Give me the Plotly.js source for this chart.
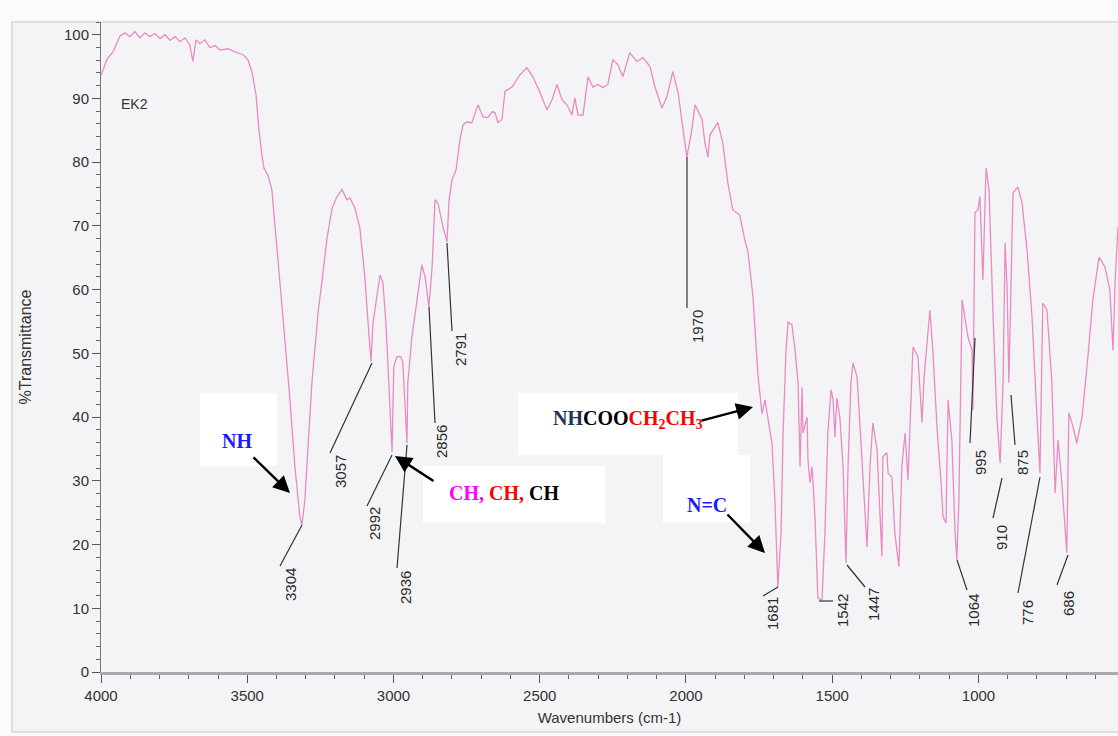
<!DOCTYPE html>
<html><head><meta charset="utf-8">
<script src="https://cdn.plot.ly/plotly-3.0.1.min.js"></script>
<style>html,body{margin:0;padding:0;background:#fbfbfb}#chart{width:1118px;height:736px}</style>
</head><body><div id="chart"></div>
<script>
// ---- data ----
const wavenumber = [
4000,3980,3959,3935,3918,3901,3884,3867,3850,3833,
3816,3798,3781,3764,3747,3730,3713,3696,3686,3675,
3662,3645,3628,3610,3593,3566,3542,3515,3498,3484,
3470,3460,3450,3443,3436,3429,3416,3399,3378,3354,
3337,3320,3313,3303,3293,3279,3265,3258,3245,3228,
3210,3193,3176,3159,3149,3132,3115,3098,3087,3077,
3070,3060,3046,3036,3026,3016,3005,2999,2988,2975,
2968,2954,2951,2937,2920,2903,2892,2879,2868,2858,
2848,2831,2817,2810,2800,2786,2773,2762,2749,2732,
2711,2694,2677,2663,2653,2643,2629,2619,2595,2568,
2544,2523,2499,2475,2458,2441,2424,2407,2390,2380,
2369,2352,2335,2318,2301,2284,2267,2250,2233,2216,
2192,2168,2147,2123,2106,2082,2065,2045,2027,2010,
1997,1980,1969,1945,1935,1925,1918,1891,1874,1857,
1840,1816,1799,1788,1771,1754,1740,1730,1720,1706,
1696,1689,1686,1675,1668,1658,1651,1638,1627,1617,
1610,1603,1600,1586,1583,1576,1569,1559,1549,1535,
1525,1515,1504,1497,1491,1484,1474,1463,1453,1446,
1436,1429,1415,1405,1391,1381,1371,1361,1347,1330,
1327,1313,1309,1296,1286,1272,1262,1251,1241,1224,
1207,1193,1186,1166,1156,1142,1128,1121,1111,1104,
1091,1080,1074,1067,1056,1046,1036,1022,1019,1012,
1002,995,985,974,964,950,937,926,916,909,
902,896,882,865,851,834,817,800,790,780,
766,749,738,728,715,698,691,677,664,646,
629,609,588,568,551,540,533,523
];
const transmittance = [
93.6,96.1,97.3,99.8,100.3,99.7,100.5,99.5,100.3,99.7,
100.2,99.4,100.0,99.1,99.7,98.9,99.5,98.4,95.8,99.2,
98.6,99.2,98.0,98.3,97.6,97.8,97.3,96.9,96.1,94.2,
90.6,85.1,81.2,79.1,78.5,77.9,75.7,66.2,55.7,42.7,
32.2,24.3,23.1,27.0,34.9,45.4,52.6,56.4,61.1,67.8,
72.8,74.6,75.7,74.1,74.4,72.8,69.7,62.0,54.8,48.7,
54.8,57.9,62.3,61.1,54.8,45.4,34.5,47.9,49.5,49.5,
48.5,35.9,45.4,52.6,58.4,63.9,62.0,57.3,63.6,74.1,
73.6,69.9,67.5,74.1,77.2,78.8,83.5,85.9,86.3,86.2,
89.0,87.1,87.0,87.9,87.8,86.2,86.7,91.1,91.8,93.7,
94.8,93.4,90.9,88.2,89.8,92.2,89.8,89.0,87.4,90.1,
87.4,87.4,93.4,91.8,92.2,91.7,92.2,96.1,95.3,93.4,
97.2,95.8,96.4,95.0,91.8,88.5,90.3,94.2,90.9,85.1,
80.8,85.1,89.0,86.7,83.0,80.8,84.3,86.2,83.0,76.8,
72.5,71.7,67.8,65.9,58.9,46.6,40.5,42.7,39.6,35.9,
27.0,16.5,13.3,21.8,37.5,50.5,54.9,54.5,50.5,45.4,
32.2,44.7,37.5,40.0,33.3,29.7,32.2,24.3,11.6,11.3,
21.8,37.5,44.3,42.7,36.9,43.0,40.0,32.2,17.1,32.2,
45.4,48.5,46.3,38.5,27.0,19.6,32.2,39.1,34.9,18.1,
33.8,34.4,31.2,30.6,21.8,16.5,32.2,37.5,30.1,51.0,
49.5,39.1,46.3,56.8,50.5,38.5,29.7,24.3,23.4,42.7,
36.4,21.8,17.6,27.0,58.4,55.7,52.6,50.5,41.1,72.1,
72.5,74.6,61.5,79.1,75.7,55.7,40.0,32.8,45.4,67.3,
60.0,45.4,75.2,76.1,73.6,66.2,55.7,40.0,31.2,57.9,
56.8,45.4,28.1,36.4,29.7,18.7,40.7,38.5,35.9,40.0,
47.9,58.4,65.1,63.6,60.0,50.5,61.1,69.9
];
const peakLabels = ['3304','3057','2992','2936','2856','2791','1970','1681','1542','1447','1064','995','910','875','776','686'];
const sampleName = 'EK2';
const xTitle = 'Wavenumbers (cm-1)';
const yTitle = '%Transmittance';

// ---- layout geometry (pixels of the 1118x736 page) ----
const L = 101, R = 1118, T = 22, B = 672;
const pxX = x => (x - L) / (R - L);
const pxY = y => (B - y) / (B - T);

// label centre and leader line (x0,y0,x1,y1) for each peak label, in order
const labelGeom = [
  [290,585, 280,566,302,525],
  [340,472, 330,453,372,363],
  [374,524, 367,506,392,455],
  [405,588, 397,568,407,445],
  [442,442, 435,423,429,307],
  [460,350, 452,331,447,243],
  [697,327, 687,308,687,157],
  [772,614, 763,596,778,587],
  [842,611, 819,601,833,601],
  [873,605, 847,565,865,587],
  [973,611, 957,560,967,590],
  [980,463, 970,443,975,338],
  [1001,538, 993,518,1002,478],
  [1022,463, 1015,445,1011,395],
  [1027,613, 1018,593,1040,477],
  [1068,604, 1057,585,1068,555]
];

const sans = 'Liberation Sans, Arial, sans-serif';
const serif = 'Liberation Serif, Times New Roman, serif';

const shapes = [
  {type:'rect', xref:'paper', yref:'paper', layer:'below',
   x0:pxX(12), x1:pxX(1130), y0:pxY(732), y1:pxY(22),
   fillcolor:'#f4f4f6', line:{color:'#d6d6da', width:1.5}},
  // white label boxes
  {type:'rect', xref:'paper', yref:'paper', layer:'below', x0:pxX(200), x1:pxX(277), y0:pxY(466), y1:pxY(393), fillcolor:'#ffffff', line:{width:0}},
  {type:'rect', xref:'paper', yref:'paper', layer:'below', x0:pxX(423), x1:pxX(605), y0:pxY(523), y1:pxY(466), fillcolor:'#ffffff', line:{width:0}},
  {type:'rect', xref:'paper', yref:'paper', layer:'below', x0:pxX(518), x1:pxX(738), y0:pxY(455), y1:pxY(393), fillcolor:'#ffffff', line:{width:0}},
  {type:'rect', xref:'paper', yref:'paper', layer:'below', x0:pxX(663), x1:pxX(750), y0:pxY(523), y1:pxY(455), fillcolor:'#ffffff', line:{width:0}}
];
const annotations = [];
function label(x, y, text, font, angle) {
  return {xref:'paper', yref:'paper', x:pxX(x), y:pxY(y), xanchor:'center', yanchor:'middle',
          text:text, textangle:angle || 0, showarrow:false, font:font};
}
labelGeom.forEach((g, i) => {
  shapes.push({type:'line', xref:'paper', yref:'paper', x0:pxX(g[2]), y0:pxY(g[3]), x1:pxX(g[4]), y1:pxY(g[5]), line:{color:'#333', width:1.2}});
  annotations.push(label(g[0], g[1], peakLabels[i], {family:sans, size:15, color:'#2a2a2a'}, -90));
});

function arrow(hx, hy, tx, ty) {
  return {xref:'paper', yref:'paper', x:pxX(hx), y:pxY(hy), ax:tx-hx, ay:ty-hy, text:'', showarrow:true,
          arrowhead:2, arrowsize:1.4, arrowwidth:2.4, arrowcolor:'#000', standoff:0, startstandoff:0};
}
annotations.push(
  label(134, 104, sampleName, {family:sans, size:14, color:'#333'}),
  label(237, 441, '<b>NH</b>', {family:serif, size:20, color:'#1a1aff'}),
  label(504, 493, '<b><span style="color:#ff00ff">CH,</span> <span style="color:#ff0000">CH,</span> <span style="color:#000000">CH</span></b>', {family:serif, size:20, color:'#000'}),
  label(628, 419, '<b><span style="color:#1f3352">NH</span><span style="color:#000000">COO</span><span style="color:#ff0000">CH<sub>2</sub>CH<sub>3</sub></span></b>', {family:serif, size:20, color:'#000'}),
  label(707, 505, '<b>N=C</b>', {family:serif, size:20, color:'#1a1aff'}),
  arrow(290,493, 252,456),
  arrow(395,456, 435,482),
  arrow(753,407, 700,421),
  arrow(765,553, 726,513)
);

const trace = {
  x: wavenumber, y: transmittance, type:'scatter', mode:'lines',
  line:{color:'#e98bc2', width:1.3}, hoverinfo:'skip'
};

const layout = {
  width:1118, height:736,
  margin:{l:L, r:0, t:T, b:736-B},
  paper_bgcolor:'#fbfbfb', plot_bgcolor:'rgba(0,0,0,0)',
  showlegend:false,
  font:{family:sans, size:15, color:'#333'},
  xaxis:{
    range:[4000,523], autorange:false, tickmode:'linear', tick0:0, dtick:500,
    ticks:'outside', ticklen:8, tickwidth:1, tickcolor:'#555',
    minor:{tickmode:'linear', tick0:0, dtick:100, ticks:'outside', ticklen:4, tickcolor:'#666'},
    showline:true, linecolor:'#a9a9b0', linewidth:2.5, showgrid:false, zeroline:false,
    tickfont:{family:sans, size:15, color:'#333'},
    title:{text:xTitle, font:{family:sans, size:15, color:'#333'}, standoff:10}
  },
  yaxis:{
    range:[0,102], autorange:false, tickmode:'linear', tick0:0, dtick:10,
    ticks:'outside', ticklen:8, tickwidth:1, tickcolor:'#555',
    minor:{tickmode:'linear', tick0:0, dtick:2, ticks:'outside', ticklen:4, tickcolor:'#666'},
    showline:true, linecolor:'#777', linewidth:1, showgrid:false, zeroline:false,
    tickfont:{family:sans, size:15, color:'#333'},
    title:{text:yTitle, font:{family:sans, size:16, color:'#333'}, standoff:28}
  },
  shapes: shapes,
  annotations: annotations
};

Plotly.newPlot('chart', [trace], layout, {staticPlot:true, displayModeBar:false});
</script></body></html>
